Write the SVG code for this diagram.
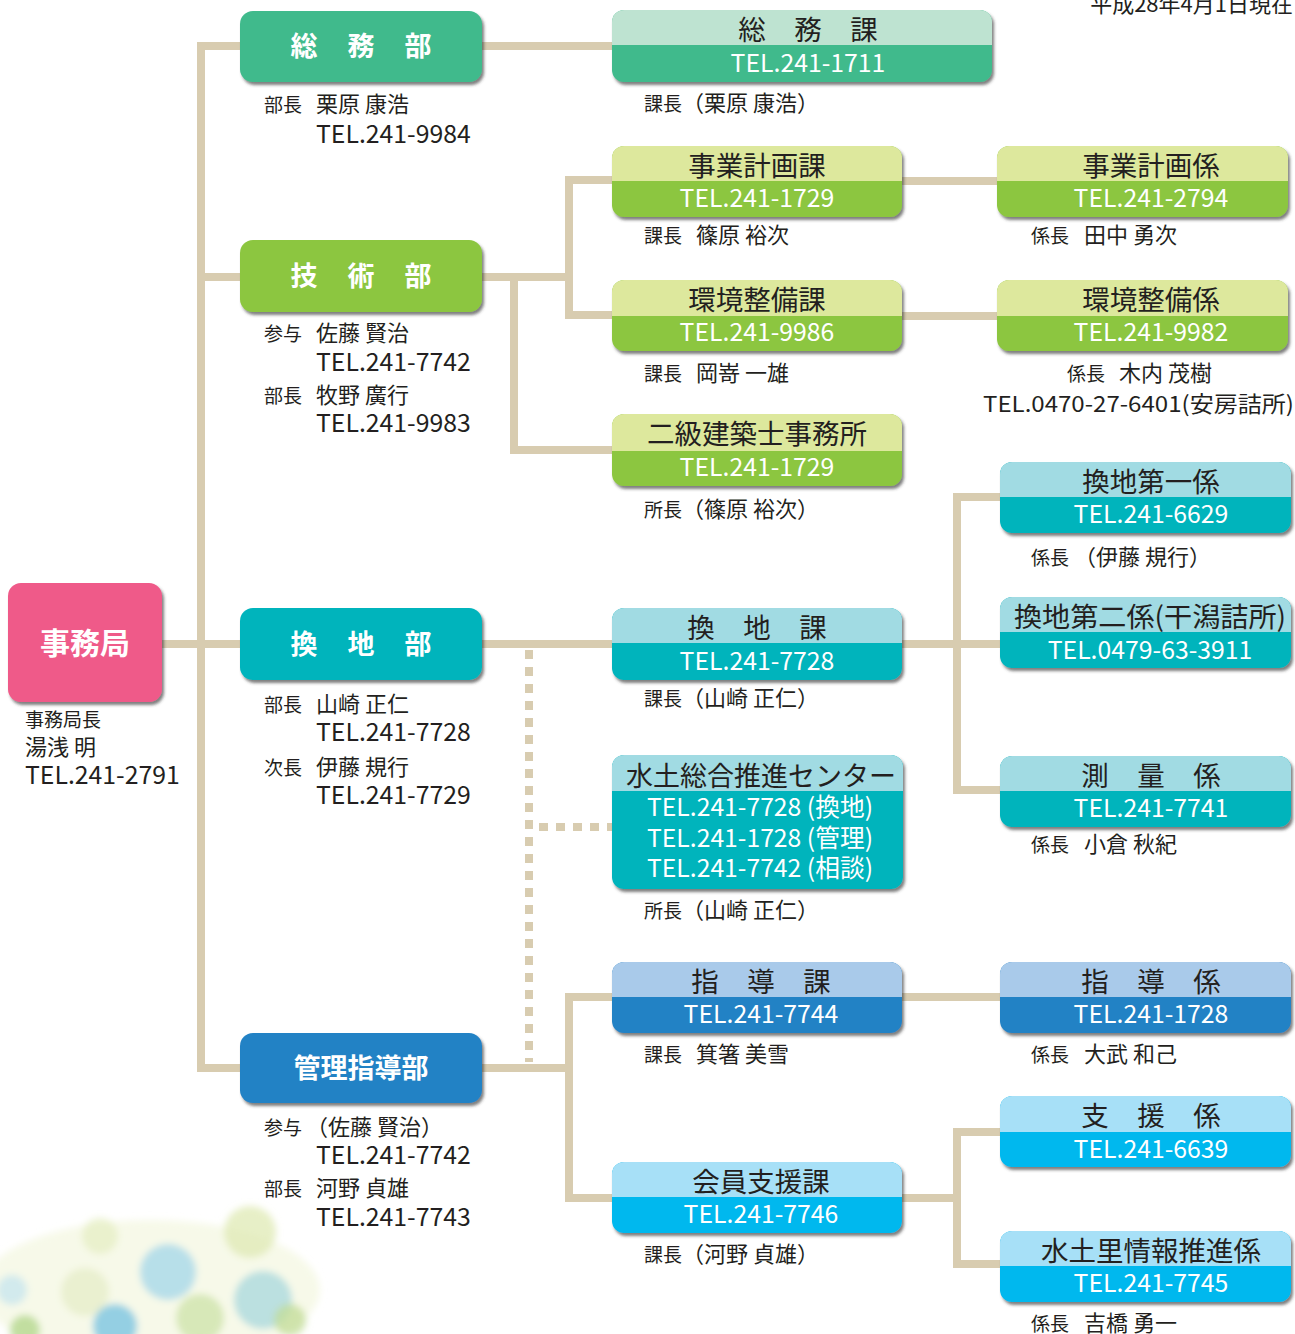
<svg xmlns="http://www.w3.org/2000/svg" width="1295" height="1334" viewBox="0 0 1295 1334">
  <style>
    text { font-family: "Noto Sans CJK JP", "Noto Sans", sans-serif; }
    .ln { fill: none; stroke: #d8ccb0; stroke-width: 8; }
    .dot { fill: none; stroke: #d8ccb0; stroke-width: 8; stroke-dasharray: 9 8; }
    .dept { font-size: 27px; font-weight: bold; fill: #ffffff; text-anchor: middle; }
    .ttl { font-size: 27.5px; font-weight: normal; fill: #231f20; text-anchor: middle; }
    .tel { font-size: 24.8px; fill: #ffffff; text-anchor: middle; }
    .role { font-size: 19px; fill: #231f20; }
    .name { font-size: 22px; fill: #231f20; }
    .ph { font-size: 24.8px; fill: #231f20; }
    .date { font-size: 22px; fill: #231f20; }
  </style>
  <defs>
    <filter id="shadow" x="-5%" y="-10%" width="115%" height="130%">
      <feDropShadow dx="2" dy="3" stdDeviation="1.6" flood-color="#3a3a3a" flood-opacity="0.65"/>
    </filter>
    <filter id="wash" x="-30%" y="-30%" width="160%" height="160%">
      <feGaussianBlur stdDeviation="3.5"/>
    </filter>
  </defs>

  <!-- watercolour decoration, lower left -->
  <g id="wash" filter="url(#wash)">
    <ellipse cx="150" cy="1290" rx="170" ry="70" fill="#f4f6e0" opacity="0.7"/>
    <circle cx="100" cy="1236" r="18" fill="#e6efc4" opacity="0.75"/>
    <circle cx="250" cy="1232" r="26" fill="#dfe9b4" opacity="0.75"/>
    <circle cx="85" cy="1292" r="24" fill="#e5eec8" opacity="0.75"/>
    <circle cx="168" cy="1272" r="28" fill="#a8d8ea" opacity="0.8"/>
    <circle cx="263" cy="1300" r="29" fill="#acdadf" opacity="0.8"/>
    <circle cx="200" cy="1318" r="24" fill="#cfe3ad" opacity="0.8"/>
    <circle cx="115" cy="1326" r="22" fill="#7cc4e2" opacity="0.8"/>
    <circle cx="12" cy="1290" r="15" fill="#c6e5ef" opacity="0.75"/>
    <circle cx="25" cy="1330" r="15" fill="#b0d688" opacity="0.75"/>
    <circle cx="290" cy="1320" r="16" fill="#c2dc96" opacity="0.75"/>
  </g>

  <!-- connectors -->
  <g id="connectors">
    <path class="ln" d="M240,46 H201 V1068 H240"/>
    <path class="ln" d="M201,277 H240"/>
    <path class="ln" d="M162,644 H240"/>
    <path class="ln" d="M482,46 H612"/>
    <path class="ln" d="M482,277 H569"/>
    <path class="ln" d="M612,180 H569 V315 H612"/>
    <path class="ln" d="M514,277 V450 H612"/>
    <path class="ln" d="M902,181 H997"/>
    <path class="ln" d="M902,316 H997"/>
    <path class="ln" d="M482,644 H612"/>
    <path class="ln" d="M902,644 H1000"/>
    <path class="ln" d="M1000,497 H957 V790 H1000"/>
    <path class="dot" d="M529,650 V1062"/>
    <path class="dot" d="M539,827 H612"/>
    <path class="ln" d="M482,1068 H569"/>
    <path class="ln" d="M612,997 H569 V1198 H612"/>
    <path class="ln" d="M902,997 H1000"/>
    <path class="ln" d="M902,1198 H957"/>
    <path class="ln" d="M1000,1132 H957 V1264 H1000"/>
  </g>

  <!-- date -->
  <text class="date" x="1293" y="12" text-anchor="end">平成28年4月1日現在</text>

  <!-- 事務局 -->
  <g id="jimukyoku">
    <rect x="8" y="583" width="154" height="119" rx="13" fill="#ef5a89" filter="url(#shadow)"/>
    <text x="85" y="654" font-size="30" font-weight="bold" fill="#ffffff" text-anchor="middle">事務局</text>
    <text class="role" x="25" y="727" font-size="19.5">事務局長</text>
    <text class="name" x="25" y="755" font-size="23">湯浅 明</text>
    <text class="ph" x="25" y="784">TEL.241-2791</text>
  </g>

  <!-- 部 -->
  <g id="somubu">
    <rect x="240" y="11" width="242" height="71" rx="13" fill="#3fba8c" filter="url(#shadow)"/>
    <text class="dept" x="304 361 418" y="56">総務部</text>
    <text x="264" y="112"><tspan class="role">部長</tspan><tspan class="name" x="316">栗原 康浩</tspan></text>
    <text class="ph" x="316" y="143">TEL.241-9984</text>
  </g>
  <g id="gijutsubu">
    <rect x="240" y="240" width="242" height="72" rx="13" fill="#8cc63f" filter="url(#shadow)"/>
    <text class="dept" x="304 361 418" y="286">技術部</text>
    <text x="264" y="341"><tspan class="role">参与</tspan><tspan class="name" x="316">佐藤 賢治</tspan></text>
    <text class="ph" x="316" y="371">TEL.241-7742</text>
    <text x="264" y="403"><tspan class="role">部長</tspan><tspan class="name" x="316">牧野 廣行</tspan></text>
    <text class="ph" x="316" y="432">TEL.241-9983</text>
  </g>
  <g id="kanchibu">
    <rect x="240" y="608" width="242" height="72" rx="13" fill="#00b4bc" filter="url(#shadow)"/>
    <text class="dept" x="304 361 418" y="654">換地部</text>
    <text x="264" y="712"><tspan class="role">部長</tspan><tspan class="name" x="316">山崎 正仁</tspan></text>
    <text class="ph" x="316" y="741">TEL.241-7728</text>
    <text x="264" y="775"><tspan class="role">次長</tspan><tspan class="name" x="316">伊藤 規行</tspan></text>
    <text class="ph" x="316" y="804">TEL.241-7729</text>
  </g>
  <g id="kanrishidobu">
    <rect x="240" y="1033" width="242" height="70" rx="13" fill="#2482c5" filter="url(#shadow)"/>
    <text class="dept" x="361" y="1078" font-size="28.5">管理指導部</text>
    <text x="264" y="1135"><tspan class="role">参与</tspan><tspan class="name" x="306">（佐藤 賢治）</tspan></text>
    <text class="ph" x="316" y="1164">TEL.241-7742</text>
    <text x="264" y="1196"><tspan class="role">部長</tspan><tspan class="name" x="316">河野 貞雄</tspan></text>
    <text class="ph" x="316" y="1226">TEL.241-7743</text>
  </g>

  <!-- 課 / 係 -->
  <g id="somuka">
    <g filter="url(#shadow)">
      <rect x="612" y="10" width="380" height="72" rx="12" fill="#3fba8c"/>
      <path d="M612,45 V22 A12,12 0 0 1 624,10 H980 A12,12 0 0 1 992,22 V45 Z" fill="#bee3d1"/>
    </g>
    <text class="ttl" x="752 808 864" y="40">総務課</text>
    <text class="tel" x="808" y="72">TEL.241-1711</text>
    <text x="644" y="111"><tspan class="role">課長</tspan><tspan class="name">（栗原 康浩）</tspan></text>
  </g>

  <g id="jigyokeikakuka">
    <g filter="url(#shadow)">
      <rect x="612" y="146" width="290" height="71" rx="12" fill="#8cc63f"/>
      <path d="M612,181 V158 A12,12 0 0 1 624,146 H890 A12,12 0 0 1 902,158 V181 Z" fill="#dde89d"/>
    </g>
    <text class="ttl" x="757" y="176">事業計画課</text>
    <text class="tel" x="757" y="207">TEL.241-1729</text>
    <text x="644" y="243"><tspan class="role">課長</tspan><tspan class="name" x="696">篠原 裕次</tspan></text>
  </g>
  <g id="jigyokeikakugakari">
    <g filter="url(#shadow)">
      <rect x="997" y="146" width="291" height="71" rx="12" fill="#8cc63f"/>
      <path d="M997,181 V158 A12,12 0 0 1 1009,146 H1276 A12,12 0 0 1 1288,158 V181 Z" fill="#dde89d"/>
    </g>
    <text class="ttl" x="1151" y="176">事業計画係</text>
    <text class="tel" x="1151" y="207">TEL.241-2794</text>
    <text x="1031" y="243"><tspan class="role">係長</tspan><tspan class="name" x="1084">田中 勇次</tspan></text>
  </g>

  <g id="kankyoseibika">
    <g filter="url(#shadow)">
      <rect x="612" y="280" width="290" height="71" rx="12" fill="#8cc63f"/>
      <path d="M612,316 V292 A12,12 0 0 1 624,280 H890 A12,12 0 0 1 902,292 V316 Z" fill="#dde89d"/>
    </g>
    <text class="ttl" x="757" y="310">環境整備課</text>
    <text class="tel" x="757" y="341">TEL.241-9986</text>
    <text x="644" y="381"><tspan class="role">課長</tspan><tspan class="name" x="696">岡嵜 一雄</tspan></text>
  </g>
  <g id="kankyoseibigakari">
    <g filter="url(#shadow)">
      <rect x="997" y="280" width="291" height="71" rx="12" fill="#8cc63f"/>
      <path d="M997,316 V292 A12,12 0 0 1 1009,280 H1276 A12,12 0 0 1 1288,292 V316 Z" fill="#dde89d"/>
    </g>
    <text class="ttl" x="1151" y="310">環境整備係</text>
    <text class="tel" x="1151" y="341">TEL.241-9982</text>
    <text x="1067" y="381"><tspan class="role">係長</tspan><tspan class="name" x="1119">木内 茂樹</tspan></text>
    <text class="name" x="983" y="412" font-size="23" textLength="311" lengthAdjust="spacingAndGlyphs">TEL.0470-27-6401(安房詰所)</text>
  </g>

  <g id="nikyukenchikushi">
    <g filter="url(#shadow)">
      <rect x="612" y="414" width="290" height="72" rx="12" fill="#8cc63f"/>
      <path d="M612,451 V426 A12,12 0 0 1 624,414 H890 A12,12 0 0 1 902,426 V451 Z" fill="#dde89d"/>
    </g>
    <text class="ttl" x="757" y="444">二級建築士事務所</text>
    <text class="tel" x="757" y="476">TEL.241-1729</text>
    <text x="644" y="517"><tspan class="role">所長</tspan><tspan class="name">（篠原 裕次）</tspan></text>
  </g>

  <g id="kanchidaiichigakari">
    <g filter="url(#shadow)">
      <rect x="1000" y="462" width="291" height="71" rx="12" fill="#00b4bc"/>
      <path d="M1000,497 V474 A12,12 0 0 1 1012,462 H1279 A12,12 0 0 1 1291,474 V497 Z" fill="#a1dbe3"/>
    </g>
    <text class="ttl" x="1151" y="492">換地第一係</text>
    <text class="tel" x="1151" y="523">TEL.241-6629</text>
    <text x="1031" y="565"><tspan class="role">係長</tspan><tspan class="name" x="1074">（伊藤 規行）</tspan></text>
  </g>

  <g id="kanchika">
    <g filter="url(#shadow)">
      <rect x="612" y="608" width="290" height="72" rx="12" fill="#00b4bc"/>
      <path d="M612,643 V620 A12,12 0 0 1 624,608 H890 A12,12 0 0 1 902,620 V643 Z" fill="#a1dbe3"/>
    </g>
    <text class="ttl" x="701 757 813" y="638">換地課</text>
    <text class="tel" x="757" y="670">TEL.241-7728</text>
    <text x="644" y="706"><tspan class="role">課長</tspan><tspan class="name">（山崎 正仁）</tspan></text>
  </g>

  <g id="kanchidainigakari">
    <g filter="url(#shadow)">
      <rect x="1000" y="597" width="291" height="71" rx="12" fill="#00b4bc"/>
      <path d="M1000,632 V609 A12,12 0 0 1 1012,597 H1279 A12,12 0 0 1 1291,609 V632 Z" fill="#a1dbe3"/>
    </g>
    <text class="ttl" x="1150" y="627" textLength="272" lengthAdjust="spacingAndGlyphs">換地第二係(干潟詰所)</text>
    <text class="tel" x="1150" y="659">TEL.0479-63-3911</text>
  </g>

  <g id="suidosogosuishin">
    <g filter="url(#shadow)">
      <rect x="612" y="755" width="291" height="134" rx="12" fill="#00b4bc"/>
      <path d="M612,791 V767 A12,12 0 0 1 624,755 H891 A12,12 0 0 1 903,767 V791 Z" fill="#a1dbe3"/>
    </g>
    <text class="ttl" x="761" y="786" font-size="28" textLength="270" lengthAdjust="spacingAndGlyphs">水土総合推進センター</text>
    <text class="tel" x="760" y="816" textLength="226" lengthAdjust="spacingAndGlyphs">TEL.241-7728 (換地)</text>
    <text class="tel" x="760" y="847" textLength="226" lengthAdjust="spacingAndGlyphs">TEL.241-1728 (管理)</text>
    <text class="tel" x="760" y="877" textLength="226" lengthAdjust="spacingAndGlyphs">TEL.241-7742 (相談)</text>
    <text x="644" y="918"><tspan class="role">所長</tspan><tspan class="name">（山崎 正仁）</tspan></text>
  </g>

  <g id="sokuryogakari">
    <g filter="url(#shadow)">
      <rect x="1000" y="756" width="291" height="71" rx="12" fill="#00b4bc"/>
      <path d="M1000,791 V768 A12,12 0 0 1 1012,756 H1279 A12,12 0 0 1 1291,768 V791 Z" fill="#a1dbe3"/>
    </g>
    <text class="ttl" x="1095 1151 1207" y="786">測量係</text>
    <text class="tel" x="1151" y="817">TEL.241-7741</text>
    <text x="1031" y="852"><tspan class="role">係長</tspan><tspan class="name" x="1084">小倉 秋紀</tspan></text>
  </g>

  <g id="shidoka">
    <g filter="url(#shadow)">
      <rect x="612" y="962" width="290" height="71" rx="12" fill="#2482c5"/>
      <path d="M612,997 V974 A12,12 0 0 1 624,962 H890 A12,12 0 0 1 902,974 V997 Z" fill="#a9caea"/>
    </g>
    <text class="ttl" x="705 761 817" y="992">指導課</text>
    <text class="tel" x="761" y="1023">TEL.241-7744</text>
    <text x="644" y="1062"><tspan class="role">課長</tspan><tspan class="name" x="696">箕箸 美雪</tspan></text>
  </g>
  <g id="shidogakari">
    <g filter="url(#shadow)">
      <rect x="1000" y="962" width="291" height="71" rx="12" fill="#2482c5"/>
      <path d="M1000,997 V974 A12,12 0 0 1 1012,962 H1279 A12,12 0 0 1 1291,974 V997 Z" fill="#a9caea"/>
    </g>
    <text class="ttl" x="1095 1151 1207" y="992">指導係</text>
    <text class="tel" x="1151" y="1023">TEL.241-1728</text>
    <text x="1031" y="1062"><tspan class="role">係長</tspan><tspan class="name" x="1084">大武 和己</tspan></text>
  </g>

  <g id="shienngakari">
    <g filter="url(#shadow)">
      <rect x="1000" y="1096" width="291" height="71" rx="12" fill="#00b8ee"/>
      <path d="M1000,1132 V1108 A12,12 0 0 1 1012,1096 H1279 A12,12 0 0 1 1291,1108 V1132 Z" fill="#a7e0f7"/>
    </g>
    <text class="ttl" x="1095 1151 1207" y="1126">支援係</text>
    <text class="tel" x="1151" y="1158">TEL.241-6639</text>
  </g>

  <g id="kaiinshienka">
    <g filter="url(#shadow)">
      <rect x="612" y="1162" width="290" height="71" rx="12" fill="#00b8ee"/>
      <path d="M612,1197 V1174 A12,12 0 0 1 624,1162 H890 A12,12 0 0 1 902,1174 V1197 Z" fill="#a7e0f7"/>
    </g>
    <text class="ttl" x="761" y="1192">会員支援課</text>
    <text class="tel" x="761" y="1223">TEL.241-7746</text>
    <text x="644" y="1262"><tspan class="role">課長</tspan><tspan class="name">（河野 貞雄）</tspan></text>
  </g>

  <g id="midorijohogakari">
    <g filter="url(#shadow)">
      <rect x="1000" y="1231" width="291" height="71" rx="12" fill="#00b8ee"/>
      <path d="M1000,1266 V1243 A12,12 0 0 1 1012,1231 H1279 A12,12 0 0 1 1291,1243 V1266 Z" fill="#a7e0f7"/>
    </g>
    <text class="ttl" x="1151" y="1261">水土里情報推進係</text>
    <text class="tel" x="1151" y="1292">TEL.241-7745</text>
    <text x="1031" y="1331"><tspan class="role">係長</tspan><tspan class="name" x="1084">吉橋 勇一</tspan></text>
  </g>
</svg>
